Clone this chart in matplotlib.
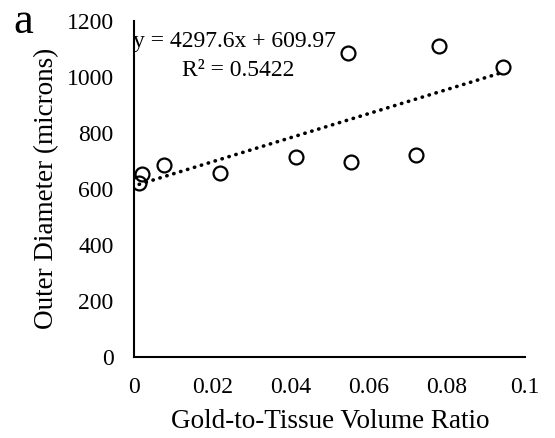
import matplotlib.pyplot as plt
import numpy as np

# Gold-to-tissue volume ratio vs outer diameter (microns)
ratio = [0.0012, 0.0020, 0.0076, 0.0219, 0.0413, 0.0547, 0.0555, 0.0720, 0.0780, 0.0943]
diameter = [621, 651, 684, 654, 714, 1083, 696, 720, 1110, 1035]

# Excel linear trendline as printed on the chart
slope = 4297.6
intercept = 609.97
r2 = 0.5422

plt.rcParams['font.family'] = ['Liberation Serif', 'DejaVu Serif']

fig = plt.figure(figsize=(5.55, 4.38), dpi=100)
ax = fig.add_axes([0.2423, 0.186, 0.7037, 0.767])

ax.plot(ratio, diameter, 'o', mfc='none', mec='black', ms=10, mew=1.6, zorder=3)

xfit = np.array([min(ratio), max(ratio)])
ax.plot(xfit, slope * xfit + intercept, color='black', lw=2.6,
        linestyle=(0, (0.1, 1.9)), dash_capstyle='round', zorder=2)

ax.set_xlim(0, 0.1)
ax.set_ylim(0, 1200)
ax.set_xticks([0, 0.02, 0.04, 0.06, 0.08, 0.1])
ax.set_xticklabels(['0', '0.02', '0.04', '0.06', '0.08', '0.1'])
ax.set_yticks(range(0, 1201, 200))
ax.tick_params(length=0, labelsize=17)
ax.tick_params(axis='x', pad=15)
ax.tick_params(axis='y', pad=15)

for s in ['top', 'right']:
    ax.spines[s].set_visible(False)
for s in ['left', 'bottom']:
    ax.spines[s].set_linewidth(1.5)

ax.set_xlabel('Gold-to-Tissue Volume Ratio', fontsize=19.5, labelpad=8)
ax.set_ylabel('Outer Diameter (microns)', fontsize=19.5, labelpad=5)

ax.text(-0.0003, 1124, 'y = %.1fx + %.2f' % (slope, intercept), fontsize=17,
        ha='left', va='center')
ax.text(0.0265, 1023, 'R² = %.4f' % r2, fontsize=17, ha='center', va='center')

fig.text(0.041, 0.95, 'a', fontsize=32, ha='center', va='center')

fig.savefig('out.png', dpi=100)
